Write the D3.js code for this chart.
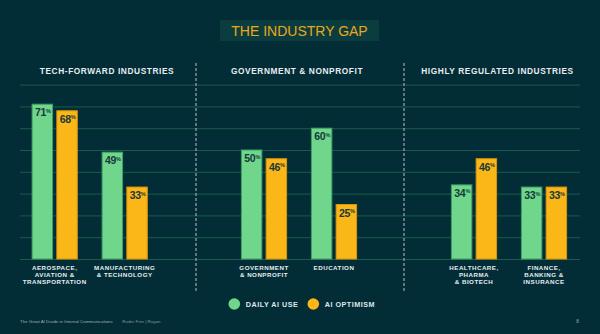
<!DOCTYPE html>
<html>
<head>
<meta charset="utf-8">
<script src="https://cdn.jsdelivr.net/npm/d3@7"></script>
<style>
  html, body { margin: 0; padding: 0; background: #022d37; }
  svg { display: block; }
  text { font-family: "Liberation Sans", Arial, sans-serif; }
</style>
</head>
<body>
<div id="chart"></div>
<script>
// data
var panelTitles = ["TECH-FORWARD INDUSTRIES", "GOVERNMENT & NONPROFIT", "HIGHLY REGULATED INDUSTRIES"];
var categories = [
  ["AEROSPACE,", "AVIATION &", "TRANSPORTATION"],
  ["MANUFACTURING", "& TECHNOLOGY"],
  ["GOVERNMENT", "& NONPROFIT"],
  ["EDUCATION"],
  ["HEALTHCARE,", "PHARMA", "& BIOTECH"],
  ["FINANCE,", "BANKING &", "INSURANCE"]
];
var categoryPanel = [0, 0, 1, 1, 2, 2];
var seriesNames = ["DAILY AI USE", "AI OPTIMISM"];
var dailyUse = [71, 49, 50, 60, 34, 33];
var optimism = [68, 33, 46, 25, 46, 33];
var yTicks = [0, 10, 20, 30, 40, 50, 60, 70, 80];

var colors = ["#6fd68b", "#fbb618"];
var strokes = ["#3f9e66", "#d8950c"];

var width = 600, height = 334;

var svg = d3.select("#chart").append("svg")
    .attr("width", width)
    .attr("height", height);

svg.append("rect").attr("width", width).attr("height", height).attr("fill", "#022d37");

// title box
svg.append("rect")
    .attr("x", 220).attr("y", 20).attr("width", 159).attr("height", 21)
    .attr("fill", "#0b3d3e");
svg.append("text")
    .attr("x", 299.5).attr("y", 36)
    .attr("text-anchor", "middle")
    .style("font-size", "14px")
    .style("fill", "#eba71d")
    .text("THE INDUSTRY GAP");

// y scale + gridlines
var yScale = d3.scaleLinear().domain([0, 80]).range([259, 84.6]);
var grid = d3.axisLeft(yScale).tickValues(yTicks).tickSize(-560).tickFormat("");
var g = svg.append("g").attr("transform", "translate(20,0)").call(grid);
g.select(".domain").remove();
g.selectAll(".tick line").attr("stroke", "#1b5a4c").attr("stroke-width", 1);

// dividers
[196, 404].forEach(function(x) {
  svg.append("line")
    .attr("x1", x).attr("x2", x).attr("y1", 63).attr("y2", 293)
    .attr("stroke", "#c9d3d3").attr("stroke-width", 0.9)
    .attr("stroke-dasharray", "3,2");
});

// panels
var panelRanges = [[19.7, 159.7], [229, 369], [439, 579]];
var panelTitleX = [107, 297, 497.5];

svg.selectAll(".panel-title")
    .data(panelTitles)
  .enter().append("text")
    .attr("class", "panel-title")
    .attr("x", function(d, i) { return panelTitleX[i]; })
    .attr("y", 74)
    .attr("text-anchor", "middle")
    .style("font-size", "8.3px")
    .style("font-weight", "bold")
    .style("letter-spacing", "0.6px")
    .style("fill", "#e6eef0")
    .text(function(d) { return d; });

// x scales per panel
var xPanels = panelRanges.map(function(r, p) {
  var cats = d3.range(categories.length).filter(function(i) { return categoryPanel[i] === p; });
  return d3.scaleBand().domain(cats).range(r).paddingInner(0).paddingOuter(0);
});
function groupCenter(i) {
  var s = xPanels[categoryPanel[i]];
  return s(i) + s.bandwidth() / 2;
}
var xInner = d3.scaleBand().domain([0, 1]).range([-22.6, 22.6]).paddingInner(0.173);

var rows = [];
categories.forEach(function(c, i) {
  [dailyUse[i], optimism[i]].forEach(function(v, s) {
    rows.push({cat: i, series: s, value: v});
  });
});

var bars = svg.append("g");
bars.selectAll("rect")
    .data(rows)
  .enter().append("rect")
    .attr("x", function(d) { return groupCenter(d.cat) + xInner(d.series); })
    .attr("y", function(d) { return yScale(d.value); })
    .attr("width", xInner.bandwidth())
    .attr("height", function(d) { return yScale(0) - yScale(d.value); })
    .attr("fill", function(d) { return colors[d.series]; })
    .attr("stroke", function(d) { return strokes[d.series]; })
    .attr("stroke-width", 1);

// value labels
var labels = bars.selectAll(".val")
    .data(rows)
  .enter().append("text")
    .attr("class", "val")
    .attr("x", function(d) { return groupCenter(d.cat) + xInner(d.series) + xInner.bandwidth() / 2 + 0.5; })
    .attr("y", function(d) { return yScale(d.value) + 12; })
    .attr("text-anchor", "middle")
    .style("font-size", "10.5px")
    .style("font-weight", "bold")
    .style("letter-spacing", "-0.3px")
    .style("fill", "#17393a");
labels.append("tspan").text(function(d) { return d.value; });
labels.append("tspan").attr("dy", -3.5).style("font-size", "5.5px").text("%");

// category labels
var catLabels = svg.selectAll(".cat")
    .data(categories)
  .enter().append("text")
    .attr("class", "cat")
    .attr("x", function(d, i) { return groupCenter(i); })
    .attr("y", 269.6)
    .attr("text-anchor", "middle")
    .style("font-size", "6.2px")
    .style("font-weight", "bold")
    .style("letter-spacing", "0.5px")
    .style("fill", "#e6eef0");
catLabels.selectAll("tspan")
    .data(function(d) { return d; })
  .enter().append("tspan")
    .attr("x", function() { return d3.select(this.parentNode).attr("x"); })
    .attr("dy", function(d, j) { return j === 0 ? 0 : 7.4; })
    .text(function(d) { return d; });

// legend
var legendX = [234.3, 313.3];
var legend = svg.selectAll(".legend")
    .data(seriesNames)
  .enter().append("g")
    .attr("class", "legend")
    .attr("transform", function(d, i) { return "translate(" + legendX[i] + ",304)"; });
legend.append("circle").attr("r", 5.8).attr("fill", function(d, i) { return colors[i]; });
legend.append("text")
    .attr("x", 11.5).attr("y", 2.6)
    .style("font-size", "7.2px")
    .style("font-weight", "bold")
    .style("letter-spacing", "0.5px")
    .style("fill", "#dfe7ea")
    .text(function(d) { return d; });

// footer
svg.append("text")
    .attr("x", 20).attr("y", 323.2)
    .style("font-size", "4.4px")
    .style("fill", "#9fb1b4")
    .text("The Great AI Divide in Internal Communications");
svg.append("text")
    .attr("x", 122.3).attr("y", 323.2)
    .style("font-size", "4.4px")
    .style("fill", "#7f9699")
    .text("Ruder Finn | Ragan");
svg.append("text")
    .attr("x", 577.5).attr("y", 323)
    .attr("text-anchor", "middle")
    .style("font-size", "4.6px")
    .style("fill", "#9fb1b4")
    .text("8");
</script>
</body>
</html>
